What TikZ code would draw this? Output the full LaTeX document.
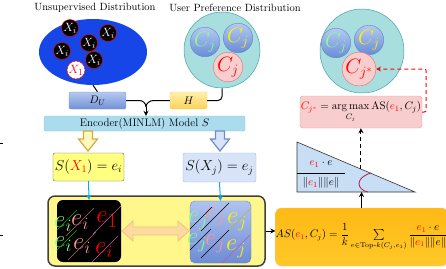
\documentclass[tikz,border=0pt]{standalone}
\usepackage{amsmath}
\usetikzlibrary{shapes.geometric,arrows.meta,calc}
\definecolor{ublue}{RGB}{22,70,232}
\definecolor{teala}{RGB}{168,222,222}
\definecolor{tealb}{RGB}{70,160,165}
\definecolor{ballt}{RGB}{180,202,242}
\definecolor{ballb}{RGB}{105,140,215}
\definecolor{ballbd}{RGB}{100,130,200}
\definecolor{pinkf}{RGB}{248,205,205}
\definecolor{pinkd}{RGB}{225,110,110}
\definecolor{lgreen}{RGB}{140,255,140}
\definecolor{lpink}{RGB}{250,150,150}
\definecolor{encf}{RGB}{170,220,238}
\definecolor{encd}{RGB}{130,195,220}
\definecolor{yelbox}{RGB}{255,255,128}
\definecolor{bigf}{RGB}{255,246,140}
\definecolor{sxjf}{RGB}{215,228,248}
\definecolor{sxjd}{RGB}{160,185,225}
\definecolor{orgt}{RGB}{255,185,20}
\definecolor{orgb}{RGB}{255,200,40}
\definecolor{trif}{RGB}{200,222,245}
\definecolor{arcc}{RGB}{170,30,80}
\definecolor{darrf}{RGB}{252,218,160}
\definecolor{darrd}{RGB}{240,195,120}
\definecolor{harrf}{RGB}{255,248,190}
\definecolor{harrd}{RGB}{215,170,60}
\definecolor{barrf}{RGB}{215,228,248}
\definecolor{barrd}{RGB}{110,140,200}
\definecolor{dut}{RGB}{180,200,240}
\definecolor{dub}{RGB}{115,145,215}
\definecolor{ht}{RGB}{255,240,170}
\definecolor{hb}{RGB}{250,210,90}
\definecolor{purp}{RGB}{190,90,160}
\definecolor{bbt}{RGB}{175,195,240}
\definecolor{bbb}{RGB}{110,140,215}
\begin{document}
\begin{tikzpicture}[x=1pt,y=-1pt,
  lbl/.style={font=\fontsize{10.5}{12}\selectfont, inner sep=0pt},
  xball/.style={circle, fill=black, draw=red, line width=0.4pt, minimum size=17pt, inner sep=0pt, text=white, font=\fontsize{13}{13}\selectfont},
  bball/.style={circle, top color=ballt, bottom color=ballb, draw=ballbd, line width=0.4pt, minimum size=26pt, inner sep=0pt, font=\fontsize{20}{20}\selectfont},
  pball/.style={circle, fill=pinkf, draw=pinkd, line width=0.4pt, minimum size=26pt, inner sep=0pt, text=red, font=\fontsize{20}{20}\selectfont},
  tcirc/.style={circle, fill=teala, draw=tealb, line width=0.5pt, inner sep=0pt},
  conn/.style={line width=1pt, black},
  ebig/.style={inner sep=0pt, font=\fontsize{25}{25}\selectfont},
  hatch/.style={line width=0.4pt}
]
\useasboundingbox (0,0) rectangle (446,268);
% stray edge marks
\draw[line width=1pt] (0,143) -- (3,143);
\draw[line width=1pt] (0,235) -- (3,235);

% titles
\node[lbl] (t1) at (95,8) {Unsupervised Distribution};
\node[lbl] (t2) at (235,8) {User Preference Distribution};

% unsupervised distribution
\node[ellipse, fill=ublue, minimum width=108pt, minimum height=66pt, inner sep=0pt] (ell) at (93,52) {};
\node[xball] (xa) at (70,28) {$X_i$};
\node[xball] (xb) at (89,43) {$X_i$};
\node[xball] (xc) at (108,33) {$X_i$};
\node[xball] (xd) at (62,51) {$X_i$};
\node[xball] (xe) at (94,60) {$X_i$};
\node[xball, fill=white, text=red] (x1) at (76,70) {$X_1$};

% user preference distribution
\node[tcirc, minimum size=76pt] (tc1) at (222,50) {};
\node[bball, text=lgreen] (ca) at (205,42) {$C_j$};
\node[bball, text=yellow] (cb) at (238,38) {$C_j$};
\node[pball] (cc) at (228,67) {$C_j$};

\node[tcirc, minimum size=84pt] (tc2) at (362,51) {};
\node[bball, text=lgreen] (cd) at (336,43) {$C_j$};
\node[bball, text=yellow] (ce) at (369,40) {$C_j$};
\node[pball] (cs) at (359,69) {$C_{j^*}$};

% D_U and H
\node[rectangle, rounded corners=2pt, top color=dut, bottom color=dub, draw=dub, minimum width=57pt, minimum height=17pt, inner sep=0pt, font=\fontsize{11}{11}\selectfont] (du) at (97.5,100.5) {$D_U$};
\node[rectangle, rounded corners=2pt, top color=ht, bottom color=hb, draw=hb, minimum width=37pt, minimum height=17pt, inner sep=0pt, font=\fontsize{11}{11}\selectfont] (h) at (188.5,100.5) {$H$};

% encoder
\node[rectangle, rounded corners=1.5pt, fill=encf, draw=encd, minimum width=201pt, minimum height=15pt, inner sep=0pt, font=\fontsize{11}{12}\selectfont] (enc) at (144.5,123.5) {Encoder(MINLM) Model $S$};

\draw[conn] (ell.south) -- (du.north);
\draw[conn, rounded corners=4pt] (tc1.south) |- (h.east);
\coordinate (m) at (146,107);
\draw[conn] (du.east) -- ++(13,0) to[out=0,in=90] (m);
\draw[conn] (h.west) -- ++(-16,0) to[out=180,in=90] (m);
\draw[conn, -{Stealth[length=5pt,width=5pt]}] (m) -- (m |- enc.north);

% S boxes
\node[rectangle, rounded corners=2pt, fill=yelbox, draw=black!60, minimum width=71pt, minimum height=28pt, inner sep=0pt, font=\fontsize{14}{14}\selectfont] (sx1) at (88.5,167) {$S(\textcolor{red}{X_1}) = e_i$};
\node[rectangle, rounded corners=2pt, fill=sxjf, draw=sxjd, minimum width=73pt, minimum height=29pt, inner sep=0pt, font=\fontsize{14}{14}\selectfont] (sxj) at (219.5,167.5) {$S(X_j) = e_j$};

% hollow arrows
\draw[fill=harrf, draw=harrd, line width=1.2pt, line join=miter] (83.5,131) -- (92.5,131) -- (92.5,139) -- (97.5,139) -- (88,151) -- (78.5,139) -- (83.5,139) -- cycle;
\draw[fill=barrf, draw=barrd, line width=1.2pt, line join=miter] (215.5,131) -- (224.5,131) -- (224.5,139) -- (229.5,139) -- (220,151) -- (210.5,139) -- (215.5,139) -- cycle;

% big yellow box
\node[rectangle, rounded corners=7pt, fill=bigf, draw=black!75, line width=1.5pt, minimum width=217pt, minimum height=70pt, inner sep=0pt] (big) at (156.5,231) {};
\node[rectangle, rounded corners=6pt, fill=black, minimum width=64pt, minimum height=62pt, inner sep=0pt] (blk) at (89,231) {};
\node[rectangle, rounded corners=5pt, top color=bbt, bottom color=bbb, draw=ballbd, line width=0.4pt, minimum width=61pt, minimum height=62pt, inner sep=0pt] (bbx) at (220.5,232) {};

\draw[-{Stealth[length=5pt,width=5pt]}, cyan, line width=1pt] (sx1.south) -- (blk.north);
\draw[-{Stealth[length=5pt,width=5pt]}, cyan, line width=1pt] (sxj.south) -- (bbx.north);

% letters in black box
\node[ebig, text=lgreen] (ba) at (63,224) {$e_i$};
\node[ebig, text=lpink] (bb) at (80,222) {$e_i$};
\node[ebig, text=red, font=\fontsize{31}{31}\selectfont] (bc) at (107,220) {$e_1$};
\node[ebig, text=lgreen] (bd) at (63,244) {$e_i$};
\node[ebig, text=lpink] (be) at (82,246) {$e_i$};
\node[ebig, text=red] (bf) at (104,250) {$e_i$};
\begin{scope}
\clip[rounded corners=6pt] (blk.south west) rectangle (blk.north east);
\foreach \n/\c in {ba/green!70!black, bb/lpink!70!black, bc/purp, bd/green!70!black, be/lpink!70!black, bf/purp}
  \draw[hatch, \c] ($(\n)+(-14,14)$) -- ($(\n)+(14,-14)$);
\end{scope}

% letters in blue box
\node[ebig, text=lgreen] (ua) at (198,221) {$e_j$};
\node[ebig, text=lpink] (ub) at (215,217) {$e_j$};
\node[ebig, text=yellow] (uc) at (237,222) {$e_j$};
\node[ebig, text=lgreen] (ud) at (197,243) {$e_j$};
\node[ebig, text=lpink] (ue) at (215,244) {$e_j$};
\node[ebig, text=yellow] (uf) at (236,249) {$e_j$};
\begin{scope}
\clip[rounded corners=5pt] (bbx.south west) rectangle (bbx.north east);
\foreach \n/\c in {ua/black, ub/black, uc/yellow!70!black, ud/black, ue/black, uf/purp}
  \draw[hatch, \c] ($(\n)+(-14,14)$) -- ($(\n)+(14,-14)$);
\end{scope}

% double arrow
\draw[fill=darrf, draw=darrd, line width=0.8pt, line join=miter] (122,231) -- (133,221) -- (133,227) -- (178,227) -- (178,221) -- (189,231) -- (178,241) -- (178,235) -- (133,235) -- (133,241) -- cycle;

% orange box
\node[rectangle, rounded corners=6pt, top color=orgt, bottom color=orgb, draw=orange!50, line width=0.4pt, minimum width=167pt, minimum height=58pt, inner sep=0pt, font=\fontsize{10.5}{12}\selectfont] (org) at (361.5,237)
  {$AS(\textcolor{red}{e_1},C_j)=\dfrac{1}{k}\sum\limits_{e\in\mathrm{Top}\text{-}k(C_j,e_1)}\dfrac{\textcolor{red}{e_1}\cdot e}{\|\textcolor{red}{e_1}\|\|e\|}$};
\draw[conn, -{Stealth[length=5pt,width=5pt]}] (big.east) -- (big.east -| org.west);

% triangle
\coordinate (ta) at (297,142);
\coordinate (tb) at (297,192);
\coordinate (tc) at (415,192);
\draw[fill=trif, draw=black!80, line width=0.6pt] (ta) -- (tb) -- (tc) -- cycle;
\draw[line width=0.5pt] (297,173) -- (345,173);
\node[inner sep=0pt, font=\fontsize{11}{11}\selectfont] (num) at (321,164) {$\textcolor{red}{e_1}\cdot e$};
\node[inner sep=0pt, font=\fontsize{11}{11}\selectfont] (den) at (321,183) {$\|\textcolor{red}{e_1}\|\|e\|$};
\draw[arcc, line width=0.8pt] (371,173) .. controls (354,178) and (357,190) .. (368,192);

% pink box
\node[rectangle, rounded corners=3pt, fill=pinkf, draw=pinkd!70, line width=0.4pt, minimum width=122pt, minimum height=32pt, inner sep=0pt, font=\fontsize{11}{12}\selectfont] (pk) at (361,112)
  {$\textcolor{red}{C_{j^*}} = \mathop{\arg\max}\limits_{C_j} \mathrm{AS}(\textcolor{red}{e_1}, C_j)$};

\coordinate (hyp) at ($(ta)!0.542!(tc)$);
\draw[conn, -{Stealth[length=5pt,width=5pt]}] (org.north) -- (org.north |- tb);
\draw[conn, dashed, dash pattern=on 4pt off 3pt, -{Stealth[length=5pt,width=5pt]}] (hyp) -- (hyp |- pk.south);
\draw[red, line width=1pt, dash pattern=on 4pt off 3pt, rounded corners=2pt, -{Stealth[length=5pt,width=5pt]}] (pk.east) -- ++(4,0) |- (cs.east);
\end{tikzpicture}
\end{document}
